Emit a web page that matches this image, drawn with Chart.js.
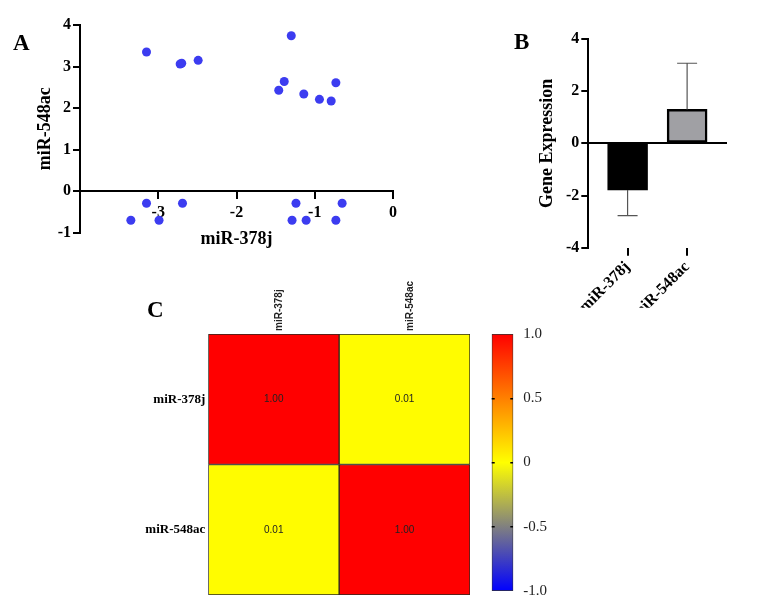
<!DOCTYPE html>
<html>
<head>
<meta charset="utf-8">
<script src="https://cdn.jsdelivr.net/npm/chart.js@4.4.1/dist/chart.umd.min.js"></script>
<style>
  body { margin: 0; background: #fff; }
  #wrap { position: relative; width: 782px; height: 616px; overflow: hidden; }
  canvas { position: absolute; }
  .tag { position: absolute; font: bold 23px "Liberation Serif", serif; line-height: 1; color: #000; }
</style>
</head>
<body>
<div id="wrap">
  <canvas id="scatter" width="410" height="260" style="left:0;top:0"></canvas>
  <canvas id="bars" width="282" height="320" style="left:500px;top:0"></canvas>
  <canvas id="heat" width="360" height="330" style="left:130px;top:280px"></canvas>
  <canvas id="cbar" width="80" height="330" style="left:480px;top:280px"></canvas>
  <div class="tag" style="left:13px;top:31px">A</div>
  <div class="tag" style="left:514px;top:30px">B</div>
  <div class="tag" style="left:147px;top:298px">C</div>
</div>
<script>
// panel A - scatter
const miR378j = [-3.15, -2.72, -2.70, -2.49, -1.30, -1.39, -1.46, -1.14, -0.94, -0.79, -0.73,
  -3.15, -2.69, -1.24, -0.65, -3.35, -2.99, -1.29, -1.11, -0.73];
const miR548ac = [3.35, 3.06, 3.08, 3.15, 3.74, 2.64, 2.43, 2.34, 2.21, 2.17, 2.61,
  -0.29, -0.29, -0.29, -0.29, -0.70, -0.70, -0.70, -0.70, -0.70];

// panel B - mean expression with error
const genes = ["miR-378j", "miR-548ac"];
const expression = [-1.79, 1.30];
const expressionErr = [0.98, 1.77];

// panel C - correlation matrix
const corrLabels = ["miR-378j", "miR-548ac"];
const corr = [
  [1.00, 0.01],
  [0.01, 1.00],
];
const cbarTicks = [-1, -0.5, 0, 0.5, 1];
const cmapColors = [[0, 0, 255], [128, 128, 128], [255, 255, 0], [255, 128, 0], [255, 0, 0]];

const SERIF = '"Liberation Serif", "Times New Roman", serif';
const SANS = '"Liberation Sans", Arial, sans-serif';
const boldSerif = (size) => ({ family: SERIF, size: size, weight: "bold" });

function colorFor(v) {
  // piecewise linear through cmapColors at cbarTicks
  let i = 0;
  while (i < cbarTicks.length - 2 && v > cbarTicks[i + 1]) i++;
  const t = (v - cbarTicks[i]) / (cbarTicks[i + 1] - cbarTicks[i]);
  const a = cmapColors[i], b = cmapColors[i + 1];
  const c = a.map((x, k) => Math.round(x + (b[k] - x) * t));
  return "rgb(" + c.join(",") + ")";
}

// ---------- A ----------
new Chart(document.getElementById("scatter"), {
  type: "scatter",
  data: {
    datasets: [{
      data: miR378j.map((x, i) => ({ x: x, y: miR548ac[i] })),
      backgroundColor: "rgb(60, 60, 240)",
      borderWidth: 0,
      pointRadius: 4.5,
    }],
  },
  options: {
    responsive: false,
    animation: false,
    layout: { padding: { left: 0, top: 25, right: 17, bottom: 27.3 } },
    plugins: { legend: { display: false }, tooltip: { enabled: false } },
    scales: {
      x: {
        type: "linear",
        min: -4,
        max: 0,
        position: { y: 0 },
        ticks: {
          stepSize: 1,
          color: "#000",
          padding: 5,
          font: boldSerif(16),
          callback: (v) => (v === -4 ? "" : v),
        },
        grid: { drawOnChartArea: false, tickLength: 7, color: "#000", lineWidth: 2 },
        border: { display: true, color: "#000", width: 2 },
        title: { display: true, text: "miR-378j", color: "#000", font: boldSerif(18), padding: 0 },
        afterFit: (s) => { s.height = 59; },
      },
      y: {
        min: -1,
        max: 4,
        ticks: { stepSize: 1, color: "#000", padding: 2, font: boldSerif(16) },
        grid: { drawOnChartArea: false, tickLength: 7, color: "#000", lineWidth: 2 },
        border: { display: true, color: "#000", width: 2 },
        title: { display: true, text: "miR-548ac", color: "#000", font: boldSerif(18), padding: { top: 35 } },
        afterFit: (s) => { s.width = 80; },
      },
    },
  },
});

// ---------- B ----------
const errorBars = {
  id: "errorBars",
  afterDatasetsDraw(chart) {
    const ctx = chart.ctx;
    const y = chart.scales.y;
    chart.getDatasetMeta(0).data.forEach((el, i) => {
      const v = expression[i];
      const end = v + Math.sign(v) * expressionErr[i];
      const y0 = y.getPixelForValue(v);
      const y1 = y.getPixelForValue(end);
      ctx.save();
      ctx.strokeStyle = "#555";
      ctx.lineWidth = 1.2;
      ctx.beginPath();
      ctx.moveTo(el.x, y0);
      ctx.lineTo(el.x, y1);
      ctx.moveTo(el.x - 10, y1);
      ctx.lineTo(el.x + 10, y1);
      ctx.stroke();
      ctx.restore();
    });
  },
};

new Chart(document.getElementById("bars"), {
  type: "bar",
  data: {
    datasets: [{
      data: expression.map((v, i) => ({ x: i + 1, y: v })),
      backgroundColor: ["#000000", "#a0a0a4"],
      borderColor: "#000",
      borderWidth: 2.5,
      borderSkipped: false,
      barThickness: 40,
    }],
  },
  options: {
    responsive: false,
    animation: false,
    layout: { padding: { left: 0, top: 39, right: 55, bottom: 12.3 } },
    plugins: { legend: { display: false }, tooltip: { enabled: false } },
    scales: {
      x: {
        type: "linear",
        min: 0.34,
        max: 2.67,
        offset: false,
        afterBuildTicks: (s) => { s.ticks = genes.map((g, i) => ({ value: i + 1 })); },
        ticks: {
          color: "#000",
          font: boldSerif(16),
          minRotation: 45,
          maxRotation: 45,
          padding: 2,
          autoSkip: false,
          callback: (v) => genes[v - 1],
        },
        grid: { offset: false, drawOnChartArea: false, tickLength: 8, color: "#000", lineWidth: 2 },
        border: { display: false },
        afterFit: (s) => { s.height = 60; },
      },
      y: {
        min: -4,
        max: 4,
        ticks: { stepSize: 2, color: "#000", padding: 2, font: boldSerif(16) },
        grid: {
          color: (c) => (c.tick && c.tick.value === 0 ? "#000" : "rgba(0,0,0,0)"),
          tickColor: "#000",
          tickLength: 7,
          lineWidth: 2,
        },
        border: { display: true, color: "#000", width: 2 },
        title: { display: true, text: "Gene Expression", color: "#000", font: boldSerif(18), padding: { top: 37 } },
        afterFit: (s) => { s.width = 88.3; },
      },
    },
  },
  plugins: [errorBars],
});

// ---------- C heatmap ----------
const cellText = {
  id: "cellText",
  afterDatasetsDraw(chart) {
    const ctx = chart.ctx;
    ctx.save();
    ctx.font = "10px " + SANS;
    ctx.fillStyle = "#222";
    ctx.textAlign = "center";
    ctx.textBaseline = "middle";
    chart.data.datasets.forEach((ds, r) => {
      chart.getDatasetMeta(r).data.forEach((el, j) => {
        const p = el.getCenterPoint();
        ctx.fillText(corr[r][j].toFixed(2), p.x, p.y);
      });
    });
    ctx.restore();
  },
};

new Chart(document.getElementById("heat"), {
  type: "bar",
  data: {
    labels: corrLabels,
    datasets: corr.map((row, r) => ({
      data: row.map(() => [r, r + 1]),
      backgroundColor: row.map(colorFor),
      borderColor: "#2a2a20",
      borderWidth: 1,
      borderSkipped: false,
      grouped: false,
      barPercentage: 1,
      categoryPercentage: 1,
    })),
  },
  options: {
    responsive: false,
    animation: false,
    layout: { padding: { left: 0, top: 0, right: 20, bottom: 15 } },
    plugins: { legend: { display: false }, tooltip: { enabled: false } },
    scales: {
      x: {
        position: "top",
        offset: true,
        ticks: {
          color: "#222",
          font: { family: SANS, size: 10, weight: "bold" },
          minRotation: 90,
          maxRotation: 90,
          padding: 3,
          labelOffset: 18,
        },
        grid: { display: false, drawTicks: false },
        border: { display: false },
        afterFit: (s) => { s.height = 54; },
      },
      y: {
        type: "linear",
        min: 0,
        max: 2,
        reverse: true,
        afterBuildTicks: (s) => { s.ticks = corrLabels.map((l, i) => ({ value: i + 0.5 })); },
        ticks: { color: "#000", font: boldSerif(13), padding: 3, callback: (v) => corrLabels[v - 0.5] },
        grid: { display: false, drawTicks: false },
        border: { display: false },
        afterFit: (s) => { s.width = 78.3; },
      },
    },
  },
  plugins: [cellText],
});

// ---------- C colour bar ----------
new Chart(document.getElementById("cbar"), {
  type: "bar",
  data: {
    labels: [""],
    datasets: [{
      data: [[cbarTicks[0], cbarTicks[cbarTicks.length - 1]]],
      backgroundColor: (c) => {
        const chart = c.chart;
        if (!chart.chartArea) return "#ff0";
        const y = chart.scales.y;
        const y0 = y.getPixelForValue(cbarTicks[0]);
        const y1 = y.getPixelForValue(cbarTicks[cbarTicks.length - 1]);
        const g = chart.ctx.createLinearGradient(0, y0, 0, y1);
        cbarTicks.forEach((t, i) => g.addColorStop((t - cbarTicks[0]) / (cbarTicks[cbarTicks.length - 1] - cbarTicks[0]), colorFor(t)));
        return g;
      },
      borderColor: "#333",
      borderWidth: 1,
      borderSkipped: false,
      barPercentage: 1,
      categoryPercentage: 1,
    }],
  },
  options: {
    responsive: false,
    animation: false,
    layout: { padding: { left: 11.7, top: 54, right: 0, bottom: 15 } },
    plugins: { legend: { display: false }, tooltip: { enabled: false } },
    scales: {
      x: { display: false },
      y: {
        position: "right",
        min: -1,
        max: 1,
        afterBuildTicks: (s) => { s.ticks = cbarTicks.map((t) => ({ value: t })); },
        ticks: {
          color: "#222",
          font: { family: SERIF, size: 15 },
          padding: 10,
          callback: (v) => (v === 0 ? "0" : v.toFixed(1)),
        },
        grid: {
          drawTicks: false,
          color: (c) => (c.tick && Math.abs(c.tick.value) < 1 ? "#000" : "rgba(0,0,0,0)"),
          lineWidth: 1.5,
          z: 1,
        },
        border: { display: false, dash: [3, 15.6] },
        afterFit: (s) => { s.width = 46.7; },
      },
    },
  },
});
</script>
</body>
</html>
